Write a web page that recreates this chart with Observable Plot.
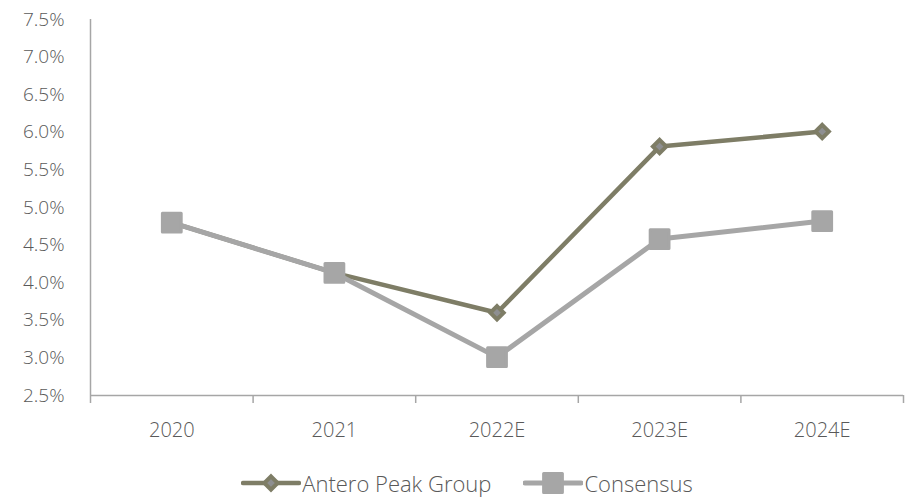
<!DOCTYPE html>
<html>
<head>
<meta charset="utf-8">
<script src="https://cdn.jsdelivr.net/npm/d3@7"></script>
<script src="https://cdn.jsdelivr.net/npm/@observablehq/plot@0.6"></script>
<style>
  html, body { margin: 0; padding: 0; background: #fff; }
  body { width: 912px; height: 499px; overflow: hidden; font-family: "Open Sans", sans-serif; font-weight: 300; color: #595959; }
  #chart svg { display: block; }
  #legend { display: flex; justify-content: center; align-items: center; gap: 32px; font-size: 22px; margin-top: 13px; height: 30px; padding-left: 22px; }
  .item { display: flex; align-items: center; }
  .item svg { display: block; margin-right: 1px; }
</style>
</head>
<body>
<div id="chart"></div>
<div id="legend"></div>
<script>
const years = ["2020", "2021", "2022E", "2023E", "2024E"];
const antero = [4.80, 4.13, 3.60, 5.81, 6.01];
const consensus = [4.80, 4.13, 3.01, 4.58, 4.82];
const yTicks = [2.5, 3.0, 3.5, 4.0, 4.5, 5.0, 5.5, 6.0, 6.5, 7.0, 7.5];
const seriesNames = ["Antero Peak Group", "Consensus"];
const anteroColor = "#7e7d66";
const anteroInner = "#8e8f91";
const consColor = "#a6a6a6";

const idx = years.map((_, i) => i);
const boundaries = d3.range(-0.5, years.length, 1);
const A = idx.map(i => ({i, v: antero[i]}));
const C = idx.map(i => ({i, v: consensus[i]}));

const plot = Plot.plot({
  width: 912,
  height: 455,
  marginLeft: 90,
  marginRight: 9,
  marginTop: 19,
  marginBottom: 60,
  style: {fontFamily: "'Open Sans', sans-serif", fontSize: "19px", color: "#595959", fontWeight: 300},
  x: {type: "linear", domain: [-0.5, years.length - 0.5]},
  y: {domain: [2.5, 7.5]},
  marks: [
    Plot.axisY({ticks: yTicks, tickSize: 0, tickPadding: 26, tickFormat: d => d.toFixed(1) + "%", label: null}),
    Plot.axisX({ticks: boundaries, tickSize: 8, tickFormat: () => "", label: null, stroke: "#a6a6a6", strokeWidth: 1.5}),
    Plot.axisX({ticks: idx, tickSize: 0, tickPadding: 27, tickFormat: i => years[i], label: null, fontSize: 20}),
    Plot.ruleY([2.5], {stroke: "#a6a6a6", strokeWidth: 1.5}),
    Plot.ruleX([-0.5], {stroke: "#a6a6a6", strokeWidth: 1.5}),
    Plot.line(A, {x: "i", y: "v", stroke: anteroColor, strokeWidth: 4.5}),
    Plot.dot(A, {x: "i", y: "v", symbol: "diamond2", r: 6, fill: anteroInner, stroke: anteroColor, strokeWidth: 4}),
    Plot.line(C, {x: "i", y: "v", stroke: consColor, strokeWidth: 5}),
    Plot.dot(C, {x: "i", y: "v", symbol: "square", r: 10.6, fill: consColor, stroke: consColor, strokeWidth: 3, strokeLinejoin: "round"})
  ]
});
document.getElementById("chart").appendChild(plot);

// legend
const legend = document.getElementById("legend");
function legendItem(name, color, kind) {
  const item = document.createElement("div");
  item.className = "item";
  const ns = "http://www.w3.org/2000/svg";
  const svg = document.createElementNS(ns, "svg");
  svg.setAttribute("width", 60); svg.setAttribute("height", 26);
  const line = document.createElementNS(ns, "line");
  line.setAttribute("x1", 2); line.setAttribute("x2", 58); line.setAttribute("y1", 13); line.setAttribute("y2", 13);
  line.setAttribute("stroke", color); line.setAttribute("stroke-width", kind === "square" ? 5 : 4.5);
  line.setAttribute("stroke-linecap", "round");
  svg.appendChild(line);
  const m = document.createElementNS(ns, "path");
  if (kind === "square") {
    m.setAttribute("d", d3.symbol(d3.symbolSquare, Math.PI * 10.6 * 10.6)());
    m.setAttribute("fill", color); m.setAttribute("stroke", color); m.setAttribute("stroke-width", 3); m.setAttribute("stroke-linejoin", "round");
  } else {
    m.setAttribute("d", d3.symbol(d3.symbolDiamond2, Math.PI * 6 * 6)());
    m.setAttribute("fill", anteroInner); m.setAttribute("stroke", color); m.setAttribute("stroke-width", 4);
  }
  m.setAttribute("transform", "translate(30,13)");
  svg.appendChild(m);
  item.appendChild(svg);
  const t = document.createElement("span");
  t.textContent = name;
  item.appendChild(t);
  return item;
}
legend.appendChild(legendItem(seriesNames[0], anteroColor, "diamond"));
legend.appendChild(legendItem(seriesNames[1], consColor, "square"));
</script>
</body>
</html>
